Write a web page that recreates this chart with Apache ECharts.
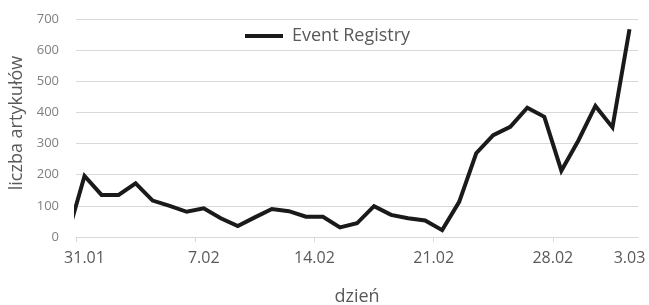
<!DOCTYPE html>
<html>
<head>
<meta charset="utf-8">
<script src="https://cdn.jsdelivr.net/npm/echarts@6/dist/echarts.min.js"></script>
<style>html,body{margin:0;padding:0;background:#fff}#c{width:649px;height:305px}</style>
</head>
<body>
<div id="c"></div>
<script>
// day labels (2016, leap year); first entry 30.01 lies just outside the visible range
const days = ['30.01','31.01','1.02','2.02','3.02','4.02','5.02','6.02','7.02','8.02','9.02','10.02','11.02','12.02','13.02','14.02','15.02','16.02','17.02','18.02','19.02','20.02','21.02','22.02','23.02','24.02','25.02','26.02','27.02','28.02','29.02','1.03','2.03','3.03'];
const eventRegistry = [5,196,135,135,172,117,100,81,92,60,35,63,90,83,65,65,31,44,99,71,60,53,22,113,269,327,354,415,386,213,310,421,352,667];
const tickLabels = ['31.01','7.02','14.02','21.02','28.02','3.03'];
const yTicks = [0,100,200,300,400,500,600,700];

const firstIdx = days.indexOf('31.01');
const lastIdx = days.length - 1;
const xIndex = d => days.indexOf(d) - firstIdx;
const seriesData = eventRegistry.map((v, i) => [i - firstIdx, v]);
const tickVals = tickLabels.slice(0, 5).map(d => xIndex(d) - 0.5);
const labelVals = tickLabels.map((d, j) => (j >= 2 && j <= 4) ? xIndex(d) - 0.5 : xIndex(d));

const chart = echarts.init(document.getElementById('c'), null, {renderer: 'canvas'});
const font = "'Open Sans', 'Noto Sans', sans-serif";
chart.setOption({
  animation: false,
  backgroundColor: '#fff',
  textStyle: {fontFamily: font},
  grid: {left: 76, right: 11, top: 19, bottom: 68, containLabel: false, outerBoundsMode: 'none'},
  legend: {
    left: 245, top: 27, padding: 0,
    icon: 'rect',
    itemWidth: 38, itemHeight: 4,
    itemGap: 10,
    textStyle: {fontFamily: font, fontSize: 18, color: '#595959', padding: [0, 0, 0, 4]},
    data: ['Event Registry']
  },
  xAxis: {
    type: 'value',
    min: -0.5,
    max: lastIdx - firstIdx + 0.5,
    name: 'dzień',
    nameLocation: 'middle',
    nameGap: 51,
    nameTextStyle: {fontFamily: font, fontSize: 18, color: '#595959'},
    axisLine: {show: true, lineStyle: {color: '#d9d9d9', width: 1}},
    axisTick: {show: true, length: 5, lineStyle: {color: '#d9d9d9'}, customValues: tickVals},
    axisLabel: {
      show: true, margin: 13,
      fontFamily: font, fontSize: 16, color: '#595959',
      customValues: labelVals,
      formatter: v => days[Math.ceil(v - 1e-6) + firstIdx]
    },
    splitLine: {show: false}
  },
  yAxis: {
    type: 'value',
    min: yTicks[0], max: yTicks[yTicks.length - 1], interval: 100,
    name: 'liczba artykułów',
    nameLocation: 'middle',
    nameGap: 50,
    nameTextStyle: {fontFamily: font, fontSize: 18, color: '#595959', padding: [0, 0, 0, 10]},
    axisLine: {show: false},
    axisTick: {show: false},
    axisLabel: {margin: 17, fontFamily: font, fontSize: 13, color: '#7f7f7f'},
    splitLine: {show: true, lineStyle: {color: '#d9d9d9', width: 1}}
  },
  series: [{
    name: 'Event Registry',
    type: 'line',
    data: seriesData,
    showSymbol: false,
    symbol: 'none',
    clip: true,
    lineStyle: {color: '#1a1a1a', width: 4, join: 'miter'},
    itemStyle: {color: '#1a1a1a'}
  }]
});
</script>
</body>
</html>
